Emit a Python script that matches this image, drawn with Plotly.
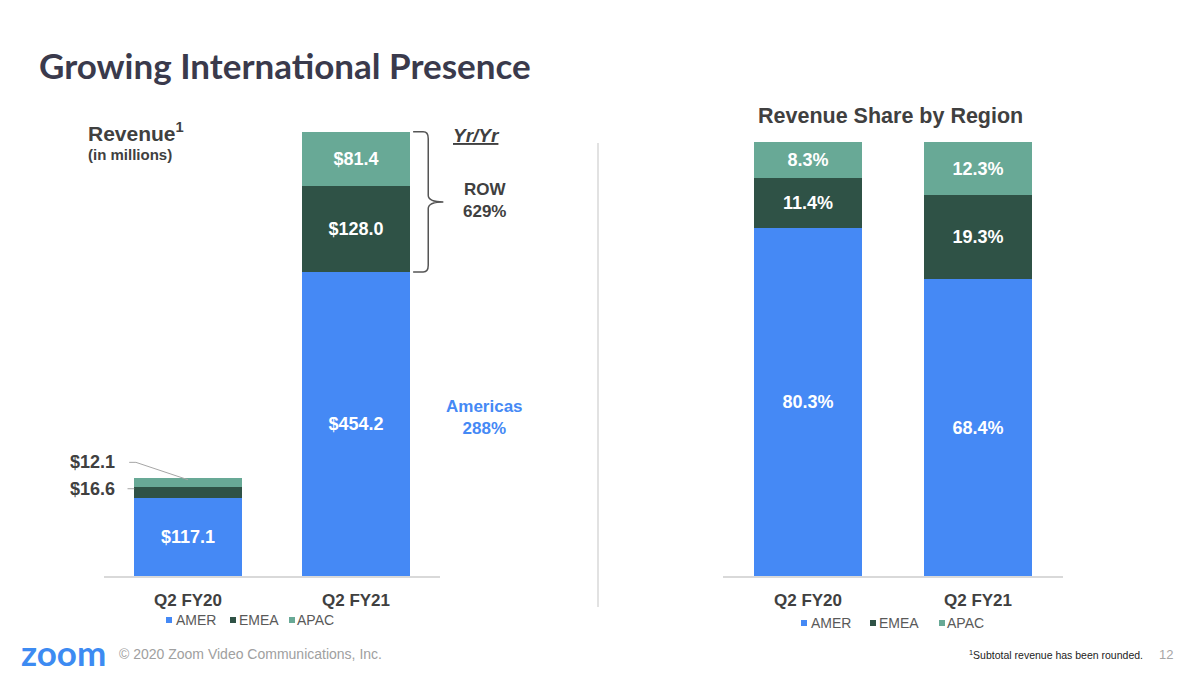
import plotly.graph_objects as go

W, H = 1200, 675
OFF = 8  # page body margin offset

# ---- data ----
categories = ["Q2 FY20", "Q2 FY21"]
regions = ["AMER", "EMEA", "APAC"]
revenue_amer = [117.1, 454.2]
revenue_emea = [16.6, 128.0]
revenue_apac = [12.1, 81.4]
share_amer = [80.3, 68.4]
share_emea = [11.4, 19.3]
share_apac = [8.3, 12.3]
growth_row = "629%"
growth_americas = "288%"

colors = {"AMER": "#4589F5", "EMEA": "#2F5246", "APAC": "#68A996"}
DARK = "#404040"
FONT = "Liberation Sans, Arial, sans-serif"


def fx(px):
    return (px - OFF) / W


def fy(py):
    return 1 - (py - OFF) / H


# axis geometry (target pixel positions)
LX = [104, 440]
RX = [723, 1063]
BASE = 576
L_SCALE = 0.6693  # px per $M
L_RANGE = [0, 700]
R_TOP = 142

fig = go.Figure()

rev_series = {"AMER": revenue_amer, "EMEA": revenue_emea, "APAC": revenue_apac}
share_series = {"AMER": share_amer, "EMEA": share_emea, "APAC": share_apac}

for r in regions:
    vals = rev_series[r]
    fig.add_trace(go.Bar(
        x=categories, y=vals, name=r, xaxis="x", yaxis="y",
        marker=dict(color=colors[r], line=dict(width=0)),
        width=0.64,
        text=[f"${v:.1f}" for v in vals],
        textposition=["inside" if v >= 50 else "none" for v in vals],
        insidetextanchor="middle", textangle=0,
        textfont=dict(family=FONT, size=18, color="white", weight="bold"),
        showlegend=False, hoverinfo="skip",
    ))

for r in regions:
    vals = share_series[r]
    fig.add_trace(go.Bar(
        x=categories, y=vals, name=r, xaxis="x2", yaxis="y2",
        marker=dict(color=colors[r], line=dict(width=0)),
        width=0.63,
        text=[f"{v:.1f}%" for v in vals],
        textposition="inside", insidetextanchor="middle", textangle=0,
        textfont=dict(family=FONT, size=18, color="white", weight="bold"),
        showlegend=False, hoverinfo="skip",
    ))

axis_common = dict(showline=True, linecolor="#D9D9D9", linewidth=1.5, ticks="",
                   showgrid=False, zeroline=False, fixedrange=True,
                   tickfont=dict(family=FONT, size=17, color=DARK, weight="bold"),
                   ticklabelstandoff=8)

fig.update_layout(
    width=W, height=H, margin=dict(l=0, r=0, t=0, b=0),
    paper_bgcolor="white", plot_bgcolor="white",
    barmode="stack", showlegend=False,
    xaxis=dict(domain=[fx(LX[0]), fx(LX[1])], range=[-0.5, 1.5], anchor="y", **axis_common),
    yaxis=dict(domain=[fy(BASE), fy(BASE - (L_RANGE[1] - L_RANGE[0]) * L_SCALE)],
               range=L_RANGE, visible=False, anchor="x", fixedrange=True),
    xaxis2=dict(domain=[fx(RX[0]), fx(RX[1])], range=[-0.5, 1.5], anchor="y2", **axis_common),
    yaxis2=dict(domain=[fy(BASE), fy(R_TOP)], range=[0, 100], visible=False,
                anchor="x2", fixedrange=True),
)

ann = []
shapes = []


def text(px, py, s, size, color=DARK, bold=True, anchor="left", family=FONT):
    ann.append(dict(x=fx(px), y=fy(py), xref="paper", yref="paper", text=s,
                    showarrow=False, xanchor=anchor, yanchor="middle",
                    font=dict(family=family, size=size, color=color,
                              weight="bold" if bold else "normal")))


# title
text(37, 65, "Growing International Presence", 35, color="#3A3A4C", family="Lato, sans-serif")
# left chart headings
text(86, 132, "Revenue<sup>1</sup>", 21)
text(86, 154, "(in millions)", 15)
# right chart title
text(890, 116, "Revenue Share by Region", 21.5, anchor="center")

# Yr/Yr annotations
text(476, 136, "<i><u>Yr/Yr</u></i>", 19, anchor="center")
text(484, 200, f"ROW<br>{growth_row}", 17, anchor="center")
text(484, 417, f"Americas<br>{growth_americas}", 17, color=colors["AMER"], anchor="center")

# outside labels for small FY20 segments
fy20_apac_top = revenue_amer[0] + revenue_emea[0] + revenue_apac[0]
fy20_emea_mid = revenue_amer[0] + revenue_emea[0] / 2
label_y_apac = fy20_apac_top + 24
ann.append(dict(x=-0.42, y=label_y_apac, xref="x", yref="y", text=f"${revenue_apac[0]:.1f}",
                showarrow=False, xanchor="right", yanchor="middle",
                font=dict(family=FONT, size=18, color=DARK, weight="bold")))
ann.append(dict(x=-0.42, y=fy20_emea_mid + 5, xref="x", yref="y", text=f"${revenue_emea[0]:.1f}",
                showarrow=False, xanchor="right", yanchor="middle",
                font=dict(family=FONT, size=18, color=DARK, weight="bold")))
shapes.append(dict(type="path", xref="x", yref="y",
                   path=f"M -0.35,{label_y_apac} L -0.31,{label_y_apac} L 0.0,{fy20_apac_top - 2}",
                   line=dict(color="#A6A6A6", width=1)))
shapes.append(dict(type="line", xref="x", yref="y", x0=-0.36, x1=-0.32,
                   y0=fy20_emea_mid + 5, y1=fy20_emea_mid + 5,
                   line=dict(color="#A6A6A6", width=1)))


# bracket around ROW segments of FY21 (y in data units, x in paper from axis mapping)
def lx(v):
    return fx(LX[0]) + (v + 0.5) / 2 * (fx(LX[1]) - fx(LX[0]))


top = revenue_amer[1] + revenue_emea[1] + revenue_apac[1]
bot = revenue_amer[1]
mid = (top + bot) / 2
r = 10
x0, xv, xp = lx(1.34), lx(1.43), lx(1.52)
xc = lx(1.40)
path = (f"M {x0},{top} L {xc},{top} Q {xv},{top} {xv},{top - r} "
        f"L {xv},{mid + r} Q {xv},{mid} {xp},{mid} Q {xv},{mid} {xv},{mid - r} "
        f"L {xv},{bot + r} Q {xv},{bot} {xc},{bot} L {x0},{bot}")
shapes.append(dict(type="path", xref="paper", yref="y", path=path,
                   line=dict(color="#555555", width=1.5)))

# divider
shapes.append(dict(type="line", xref="paper", yref="paper", x0=fx(598), x1=fx(598),
                   y0=fy(143), y1=fy(607), line=dict(color="#D9D9D9", width=1.5)))


# manual legends
def legend(items, py):
    for (name, sq_x, tx) in items:
        shapes.append(dict(type="rect", xref="paper", yref="paper",
                           x0=fx(sq_x), x1=fx(sq_x + 6), y0=fy(py + 3), y1=fy(py - 3),
                           fillcolor=colors[name], line=dict(width=0)))
        text(tx, py, name, 14, color="#595959", bold=False)


legend([("AMER", 166, 174), ("EMEA", 230, 237), ("APAC", 289, 295)], 620)
legend([("AMER", 801, 809), ("EMEA", 870, 877), ("APAC", 939, 945)], 623)

# footer
text(19, 652, "zoom", 35, color="#3D8BF2", family="Lato, sans-serif")
text(117, 654, "© 2020 Zoom Video Communications, Inc.", 14, color="#A0A0A0", bold=False)
text(1145, 654, "<sup>1</sup>Subtotal revenue has been rounded.", 10.5, color="#222222",
     bold=False, anchor="right")
text(1157, 654, "12", 13, color="#A6A6A6", bold=False)

fig.update_layout(annotations=ann, shapes=shapes)
fig.write_html("out.html")
